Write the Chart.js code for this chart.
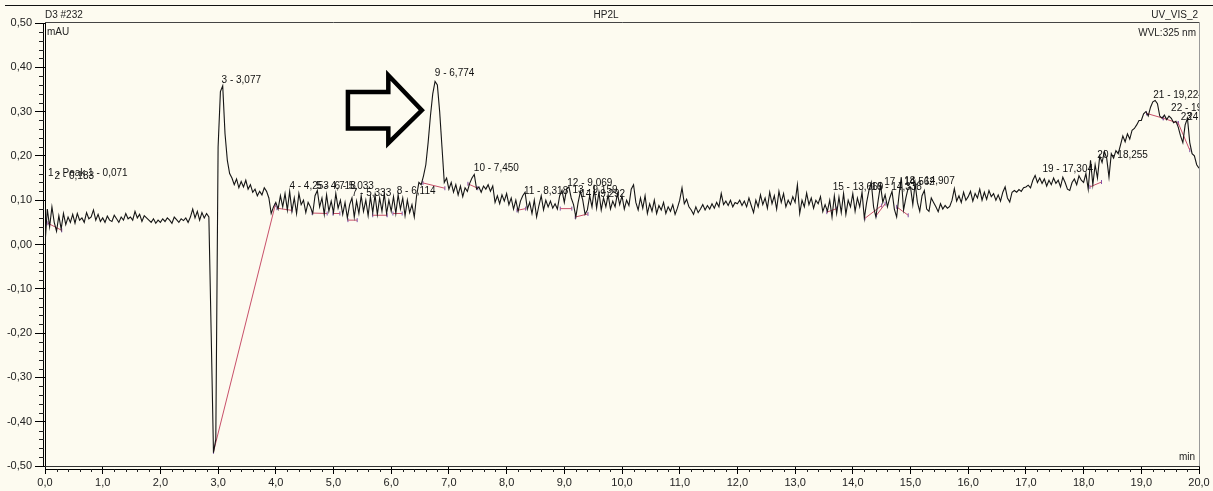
<!DOCTYPE html>
<html>
<head>
<meta charset="utf-8">
<title>HP2L – UV_VIS_2</title>
<script src="https://cdn.jsdelivr.net/npm/chart.js@4/dist/chart.umd.min.js"></script>
<style>
  html, body { margin: 0; padding: 0; background: #fdfbf0; }
  #wrap { width: 1213px; height: 491px; position: relative; }
</style>
</head>
<body>
<div id="wrap"><canvas id="chrom"></canvas></div>
<script>
// ---- Chromatogram D3 #232, channel UV_VIS_2 (WVL 325 nm) ----
// Detector signal in mAU, sampled every 0.04 min from 0 to 20 min.
const traceStart = 0;
const traceStep = 0.04;
const traceValues = [
  // 0.00 – 0.96
  0.000,0.080,0.040,0.085,0.050,0.030,0.065,0.035,0.070,0.045,0.062,0.050,0.068,0.048,0.070,0.055,0.060,0.050,0.072,0.058,0.062,0.078,0.055,0.068,0.052,
  // 1.00 – 1.96
  0.060,0.050,0.064,0.055,0.052,0.066,0.058,0.050,0.062,0.055,0.070,0.058,0.062,0.055,0.075,0.060,0.068,0.052,0.065,0.060,0.055,0.050,0.058,0.048,0.055,
  // 2.00 – 2.96
  0.050,0.058,0.052,0.060,0.055,0.048,0.062,0.056,0.050,0.058,0.054,0.060,0.050,0.062,0.080,0.060,0.075,0.055,0.072,0.060,0.070,0.062,-0.200,-0.470,-0.440,
  // 3.00 – 3.96
  0.220,0.345,0.358,0.250,0.190,0.160,0.150,0.135,0.148,0.128,0.142,0.130,0.145,0.125,0.135,0.118,0.125,0.110,0.120,0.112,0.128,0.120,0.105,0.070,0.085,
  // 4.00 – 4.96
  0.095,0.080,0.110,0.085,0.115,0.078,0.120,0.075,0.105,0.070,0.115,0.090,0.100,0.072,0.095,0.085,0.070,0.110,0.122,0.085,0.105,0.068,0.112,0.075,0.098,
  // 5.00 – 5.96
  0.072,0.115,0.082,0.100,0.068,0.095,0.060,0.090,0.105,0.062,0.098,0.070,0.110,0.075,0.100,0.065,0.108,0.072,0.112,0.068,0.105,0.075,0.115,0.070,0.100,
  // 6.00 – 6.96
  0.075,0.108,0.070,0.112,0.080,0.105,0.065,0.100,0.072,0.090,0.062,0.110,0.140,0.135,0.155,0.180,0.230,0.290,0.340,0.368,0.360,0.300,0.220,0.140,0.150,
  // 7.00 – 7.96
  0.125,0.140,0.118,0.135,0.112,0.132,0.108,0.128,0.120,0.138,0.150,0.158,0.125,0.130,0.118,0.132,0.125,0.135,0.120,0.132,0.095,0.110,0.092,0.112,0.098,
  // 8.00 – 8.96
  0.115,0.090,0.105,0.080,0.100,0.075,0.098,0.110,0.118,0.080,0.095,0.070,0.100,0.062,0.088,0.110,0.078,0.100,0.085,0.098,0.082,0.092,0.080,0.110,0.122,
  // 9.00 – 9.96
  0.095,0.125,0.130,0.105,0.090,0.062,0.095,0.120,0.100,0.068,0.078,0.110,0.085,0.125,0.082,0.118,0.078,0.105,0.085,0.112,0.080,0.098,0.085,0.115,0.090,
  // 10.00 – 10.96
  0.110,0.080,0.100,0.088,0.125,0.135,0.095,0.078,0.105,0.082,0.110,0.070,0.092,0.075,0.100,0.070,0.088,0.078,0.095,0.070,0.085,0.075,0.090,0.068,0.082,
  // 11.00 – 11.96
  0.100,0.128,0.092,0.102,0.085,0.078,0.068,0.085,0.072,0.080,0.090,0.078,0.088,0.080,0.092,0.082,0.095,0.085,0.115,0.090,0.098,0.088,0.100,0.085,0.095,
  // 12.00 – 12.96
  0.092,0.100,0.088,0.098,0.085,0.105,0.088,0.072,0.100,0.085,0.112,0.090,0.105,0.082,0.118,0.092,0.110,0.080,0.120,0.095,0.115,0.085,0.100,0.090,0.108,
  // 13.00 – 13.96
  0.095,0.135,0.070,0.100,0.085,0.116,0.090,0.105,0.082,0.100,0.092,0.108,0.074,0.090,0.075,0.100,0.062,0.110,0.070,0.107,0.072,0.115,0.068,0.100,0.085,
  // 14.00 – 14.96
  0.115,0.075,0.105,0.085,0.118,0.059,0.095,0.122,0.140,0.085,0.062,0.100,0.134,0.095,0.112,0.085,0.105,0.120,0.080,0.062,0.110,0.152,0.078,0.105,0.128,
  // 15.00 – 15.96
  0.130,0.090,0.138,0.095,0.075,0.110,0.122,0.080,0.075,0.105,0.095,0.085,0.074,0.092,0.080,0.088,0.082,0.086,0.100,0.126,0.098,0.110,0.095,0.118,0.100,
  // 16.00 – 16.96
  0.108,0.120,0.098,0.115,0.105,0.125,0.100,0.118,0.102,0.122,0.108,0.115,0.100,0.112,0.098,0.118,0.130,0.105,0.096,0.118,0.122,0.118,0.124,0.120,0.128,
  // 17.00 – 17.96
  0.130,0.134,0.128,0.145,0.156,0.140,0.150,0.138,0.148,0.132,0.145,0.135,0.150,0.138,0.145,0.130,0.152,0.140,0.125,0.122,0.140,0.148,0.135,0.155,0.145,
  // 18.00 – 18.96
  0.140,0.160,0.125,0.190,0.135,0.180,0.150,0.200,0.185,0.210,0.195,0.152,0.205,0.195,0.212,0.205,0.225,0.245,0.232,0.250,0.238,0.258,0.262,0.270,0.280,
  // 19.00 – 19.96
  0.280,0.295,0.300,0.290,0.310,0.322,0.325,0.318,0.290,0.285,0.292,0.282,0.290,0.285,0.275,0.278,0.265,0.245,0.230,0.270,0.285,0.230,0.205,0.200,0.180,
  // 20.00
  0.172
];

// Integrated peaks: number, optional name, retention time (min) and label height (mAU)
const peakNumbers = [1, 2, 3, 4, 5, 6, 7, 8, 9, 10, 11, 12, 13, 14, 15, 16, 17, 18, 19, 20, 21, 22, 23, 24];
const peakNames   = ['Peak 1', '', '', '', '', '', '', '', '', '', '', '', '', '', '', '', '', '', '', '', '', '', '', ''];
const peakTimes   = [0.071, 0.183, 3.077, 4.253, 4.718, 5.033, 5.333, 6.114, 6.774, 7.450, 8.318, 9.069,
                     9.159, 9.292, 13.669, 14.338, 14.562, 14.907, 17.304, 18.255, 19.224, 19.534, 19.702, 19.812];
const peakLabelLevels = [0.161, 0.155, 0.371, 0.132, 0.132, 0.131, 0.116, 0.121, 0.387, 0.173, 0.121, 0.139,
                         0.123, 0.114, 0.130, 0.130, 0.141, 0.143, 0.170, 0.202, 0.337, 0.308, 0.288, 0.288];

// Integration baselines: [start time, start level, end time, end level]
const integrationBaselines = [
  [0.05, 0.048, 0.29, 0.032],
  [2.92, -0.468, 3.99, 0.089],
  [4.02, 0.082, 4.28, 0.077],
  [4.63, 0.071, 4.89, 0.070],
  [4.99, 0.070, 5.11, 0.070],
  [5.25, 0.055, 5.41, 0.055],
  [5.68, 0.066, 5.93, 0.066],
  [6.03, 0.070, 6.19, 0.070],
  [6.55, 0.139, 6.93, 0.127],
  [7.33, 0.137, 7.50, 0.127],
  [8.18, 0.077, 8.33, 0.081],
  [8.93, 0.081, 9.13, 0.081],
  [9.19, 0.062, 9.41, 0.069],
  [13.55, 0.073, 13.72, 0.081],
  [14.21, 0.059, 14.50, 0.088],
  [14.41, 0.066, 14.56, 0.092],
  [14.76, 0.085, 14.96, 0.066],
  [18.11, 0.130, 18.31, 0.141],
  [19.09, 0.296, 19.38, 0.285],
  [19.38, 0.285, 19.64, 0.274],
  [19.64, 0.274, 19.84, 0.213]
];

// Axis ranges and tick steps
const timeRange = [0, 20];
const signalRange = [-0.5, 0.5];
const timeMajorStep = 1;
const signalMajorStep = 0.1;

// Outline arrow pointing at peak 9 (time in min, level in mAU)
const arrowOutline = [
  [5.25, 0.344], [5.95, 0.344], [5.95, 0.382], [6.53, 0.303],
  [5.95, 0.229], [5.95, 0.262], [5.25, 0.262]
];

// ---- build datasets ----
const tracePoints = traceValues.map((v, i) => ({ x: +(traceStart + i * traceStep).toFixed(2), y: v }));

const baselinePoints = [];
const baselineEnds = [];
integrationBaselines.forEach(([t0, v0, t1, v1]) => {
  baselinePoints.push({ x: t0, y: v0 }, { x: t1, y: v1 }, { x: t1, y: null });
  baselineEnds.push({ x: t0, y: v0 }, { x: t1, y: v1 });
});

const comma = (v, d) => {
  const r = Math.round(v * Math.pow(10, d)) / Math.pow(10, d);
  return (r === 0 ? 0 : r).toFixed(d).replace('.', ',');
};

const FONT = '"Liberation Sans", Arial, sans-serif';
const BG = '#fdfbf0';

const chromDecor = {
  id: 'chromDecor',
  beforeDraw(chart) {
    const { ctx, width, height } = chart;
    ctx.save();
    ctx.fillStyle = BG;
    ctx.fillRect(0, 0, width, height);
    ctx.restore();
  },
  afterDatasetsDraw(chart) {
    const { ctx, chartArea: a, scales: { x, y } } = chart;
    ctx.save();
    ctx.beginPath();
    ctx.rect(a.left, a.top, a.right - a.left, a.bottom - a.top);
    ctx.clip();

    // peak labels
    ctx.font = '10px ' + FONT;
    ctx.fillStyle = '#111';
    ctx.textAlign = 'left';
    ctx.textBaseline = 'middle';
    peakNumbers.forEach((n, i) => {
      const name = peakNames[i] ? peakNames[i] + ' - ' : '';
      const text = n + ' - ' + name + comma(peakTimes[i], 3);
      ctx.fillText(text, x.getPixelForValue(peakTimes[i]) - 1, y.getPixelForValue(peakLabelLevels[i]));
    });

    // arrow
    ctx.beginPath();
    arrowOutline.forEach(([t, v], i) => {
      const px = x.getPixelForValue(t), py = y.getPixelForValue(v);
      if (i === 0) ctx.moveTo(px, py); else ctx.lineTo(px, py);
    });
    ctx.closePath();
    ctx.lineWidth = 4.5;
    ctx.lineJoin = 'miter';
    ctx.strokeStyle = '#000';
    ctx.stroke();
    ctx.restore();
  },
  afterDraw(chart) {
    const { ctx, chartArea: a, scales: { x, y }, width } = chart;
    ctx.save();
    ctx.lineWidth = 1;

    // top rule of the report
    ctx.strokeStyle = '#111';
    ctx.beginPath(); ctx.moveTo(5, 5.5); ctx.lineTo(width, 5.5); ctx.stroke();

    // plot frame
    ctx.strokeStyle = '#444';
    ctx.beginPath(); ctx.moveTo(a.left, a.top - 0.5); ctx.lineTo(a.right + 0.5, a.top - 0.5); ctx.stroke();
    ctx.strokeStyle = '#9a9a9a';
    ctx.beginPath(); ctx.moveTo(a.right + 0.5, a.top - 0.5); ctx.lineTo(a.right + 0.5, a.bottom); ctx.stroke();
    ctx.strokeStyle = '#333';
    ctx.beginPath(); ctx.moveTo(a.left, a.bottom + 0.5); ctx.lineTo(a.right + 0.5, a.bottom + 0.5); ctx.stroke();

    // axis lines set just outside the frame
    ctx.strokeStyle = '#000';
    ctx.beginPath(); ctx.moveTo(a.left - 1.5, y.getPixelForValue(signalRange[1])); ctx.lineTo(a.left - 1.5, a.bottom + 0.5); ctx.stroke();
    ctx.beginPath(); ctx.moveTo(a.left, a.bottom + 3.5); ctx.lineTo(a.right + 0.5, a.bottom + 3.5); ctx.stroke();

    // minor ticks
    ctx.strokeStyle = '#222';
    for (let k = -25; k <= 25; k++) {
      if (k % 5 === 0) continue;
      const py = Math.round(y.getPixelForValue(k * 0.02)) + 0.5;
      ctx.beginPath(); ctx.moveTo(a.left - 6, py); ctx.lineTo(a.left - 1, py); ctx.stroke();
    }
    for (let k = 0; k <= 100; k++) {
      if (k % 5 === 0) continue;
      const px = Math.round(x.getPixelForValue(k * 0.2)) + 0.5;
      ctx.beginPath(); ctx.moveTo(px, a.bottom + 3.5); ctx.lineTo(px, a.bottom + 6); ctx.stroke();
    }

    // header and unit texts
    ctx.fillStyle = '#222';
    ctx.font = '10px ' + FONT;
    ctx.textBaseline = 'middle';
    ctx.textAlign = 'left';
    ctx.fillText('D3 #232', a.left, 15);
    ctx.fillText('mAU', a.left + 2, 32);
    ctx.textAlign = 'center';
    ctx.fillText('HP2L', 606, 15);
    ctx.textAlign = 'right';
    ctx.fillText('UV_VIS_2', a.right - 1, 15);
    ctx.fillText('WVL:325 nm', a.right - 3, 33);
    ctx.fillText('min', a.right - 4, a.bottom - 9);
    ctx.restore();
  }
};

new Chart(document.getElementById('chrom'), {
  type: 'line',
  data: {
    datasets: [
      {
        label: 'UV_VIS_2',
        data: tracePoints,
        borderColor: '#151515',
        borderWidth: 1.1,
        pointRadius: 0,
        tension: 0
      },
      {
        label: 'Baselines',
        data: baselinePoints,
        borderColor: '#c8506a',
        borderWidth: 1,
        pointRadius: 0,
        spanGaps: false,
        tension: 0
      },
      {
        label: 'Peak delimiters',
        data: baselineEnds,
        showLine: false,
        pointStyle: 'line',
        rotation: 90,
        pointRadius: 2,
        pointBorderColor: '#7a4fa8',
        pointBorderWidth: 1
      }
    ]
  },
  options: {
    responsive: true,
    maintainAspectRatio: false,
    animation: false,
    devicePixelRatio: 1,
    layout: { padding: { top: 23, right: 14, left: 0, bottom: 0 } },
    plugins: { legend: { display: false }, tooltip: { enabled: false } },
    scales: {
      x: {
        type: 'linear',
        min: timeRange[0],
        max: timeRange[1],
        afterFit: (s) => { s.height = 25; },
        grid: { drawOnChartArea: false, drawTicks: true, tickLength: 8, color: '#000' },
        border: { display: true, color: '#333', width: 1 },
        ticks: {
          stepSize: timeMajorStep,
          autoSkip: false,
          maxRotation: 0,
          padding: 2,
          color: '#222',
          font: { family: FONT, size: 11 },
          callback: (v) => comma(v, 1)
        }
      },
      y: {
        type: 'linear',
        min: signalRange[0],
        max: signalRange[1],
        afterFit: (s) => { s.width = 45; },
        grid: { drawOnChartArea: false, drawTicks: true, tickLength: 10, color: '#000' },
        border: { display: true, color: '#000', width: 1 },
        ticks: {
          stepSize: signalMajorStep,
          padding: 3,
          color: '#222',
          font: { family: FONT, size: 11 },
          callback: (v) => comma(v, 2)
        }
      }
    }
  },
  plugins: [chromDecor]
});
</script>
</body>
</html>
